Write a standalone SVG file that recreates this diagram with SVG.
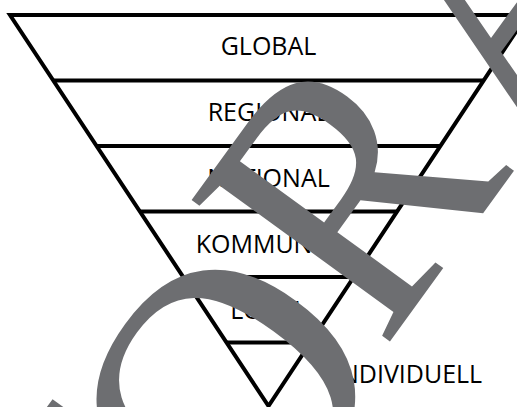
<svg xmlns="http://www.w3.org/2000/svg" width="517" height="407" viewBox="0 0 517 407">
<style>
.ln{stroke:#000;stroke-width:4;fill:none;stroke-linecap:butt;stroke-linejoin:miter}
.lb{font-family:"Open Sans","Noto Sans",sans-serif;font-size:25px;fill:#000}
.wm{font-family:"Liberation Serif","Times New Roman",serif;font-size:372px;fill:#6d6e71}
</style>
<rect width="517" height="407" fill="#fff"/>
<g id="connectors">
<path class="ln" d="M10 15 L527 15 L268.5 406 Z"/>
<line class="ln" x1="53.3" y1="80.5" x2="483.7" y2="80.5"/>
<line class="ln" x1="96.6" y1="146" x2="440.4" y2="146"/>
<line class="ln" x1="139.8" y1="211.5" x2="397.2" y2="211.5"/>
<line class="ln" x1="183.1" y1="277" x2="353.9" y2="277"/>
<line class="ln" x1="226.4" y1="342.5" x2="310.6" y2="342.5"/>
</g>
<g id="global"><text class="lb" x="268.5" y="55" text-anchor="middle">GLOBAL</text></g>
<g id="regional"><text class="lb" x="268.5" y="121" text-anchor="middle">REGIONAL</text></g>
<g id="national"><text class="lb" x="268.5" y="186.5" text-anchor="middle">NATIONAL</text></g>
<g id="kommunal"><text class="lb" x="268.5" y="252.5" text-anchor="middle">KOMMUNAL</text></g>
<g id="lokal"><text class="lb" x="268.5" y="318.5" text-anchor="middle">LOKAL</text></g>
<g id="individuell"><text class="lb" x="333" y="383">INDIVIDUELL</text></g>
<g id="watermark">
<g transform="translate(393 345) rotate(-54)">
<text class="wm" x="-465" y="0">T</text>
<text class="wm" x="225" y="0">A</text>
</g>
<g transform="translate(426 329) rotate(-54)">
<text class="wm" x="-307" y="0">O</text>
</g>
<g transform="translate(383 351) rotate(-54)">
<text class="wm" transform="scale(0.9 1)" x="0" y="0">R</text>
</g>
</g>
</svg>
